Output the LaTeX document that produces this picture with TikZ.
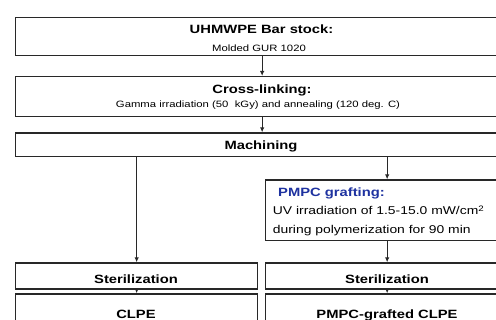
\documentclass[tikz,border=0pt]{standalone}
\usepackage{fontspec}
\setmainfont{Liberation Sans}[FakeStretch=1.23]
\usetikzlibrary{arrows.meta}
\definecolor{pblue}{RGB}{30,50,160}
\definecolor{lc}{RGB}{40,40,40}
\tikzset{
  box/.style={draw=lc, line width=1.3pt, rectangle, inner sep=0pt, anchor=north west, fill=white},
  arr/.style={draw=lc, line width=1.1pt, -{Latex[length=5pt,width=4.5pt]}},
  ttl/.style={font=\fontsize{12}{14}\selectfont\bfseries, anchor=base, inner sep=0pt, text=black},
  sub/.style={font=\fontsize{9.2}{11}\selectfont, anchor=base, inner sep=0pt, text=black},
  body/.style={font=\fontsize{11.3}{13}\selectfont, anchor=base west, inner sep=0pt, text=black}
}
\begin{document}
\begin{tikzpicture}[x=1pt,y=-1pt]
\useasboundingbox (0,0) rectangle (496,320);
\clip (0,0) rectangle (496,320);
% boxes
\node[box, minimum width=493pt, minimum height=38pt] (bar) at (15,17) {};
\node[box, minimum width=493pt, minimum height=40pt] (cross) at (15,76) {};
\node[box, minimum width=493pt, minimum height=23.4pt] (mach) at (15,132.3) {};
\node[box, minimum width=243pt, minimum height=60.7pt] (pmpc) at (265,179.3) {};
\node[box, minimum width=242pt, minimum height=26pt] (steL) at (15,262.3) {};
\node[box, minimum width=243pt, minimum height=26pt] (steR) at (265,262.3) {};
\node[box, minimum width=242pt, minimum height=32pt] (clpeL) at (15,293.3) {};
\node[box, minimum width=243pt, minimum height=32pt] (clpeR) at (265,293.3) {};
% texts
\node[ttl] (t1) at (261.5,33.3) {UHMWPE Bar stock:};
\node[sub] (t1s) at (259,51.7) {Molded GUR 1020};
\node[ttl] (t2) at (262,94) {Cross-linking:};
\node[sub] (t2s) at (258,107.3) {Gamma irradiation (50\ \ kGy) and annealing (120 deg. C)};
\node[ttl] (t3) at (261,150) {Machining};
\node[ttl, anchor=base west, text=pblue] (t4) at (278,196.7) {PMPC grafting:};
\node[body] (t4a) at (272.7,215) {UV irradiation of 1.5-15.0 mW/cm\textsuperscript{2}};
\node[body] (t4b) at (272.7,234) {during polymerization for 90 min};
\node[ttl] (t5) at (136,283.3) {Sterilization};
\node[ttl] (t6) at (387,283.3) {Sterilization};
\node[ttl] (t7) at (136,318.3) {CLPE};
\node[ttl] (t8) at (387,318.3) {PMPC-grafted CLPE};
% connectors
\draw[arr] (bar.south) -- (cross.north);
\draw[arr] (cross.south) -- (mach.north);
\draw[arr] (mach.south -| steL.north) -- (steL.north);
\draw[arr] (mach.south -| pmpc.north) -- (pmpc.north);
\draw[arr] (pmpc.south) -- (steR.north);
\draw[arr] (steL.south) -- (clpeL.north);
\draw[arr] (steR.south) -- (clpeR.north);
\end{tikzpicture}
\end{document}
